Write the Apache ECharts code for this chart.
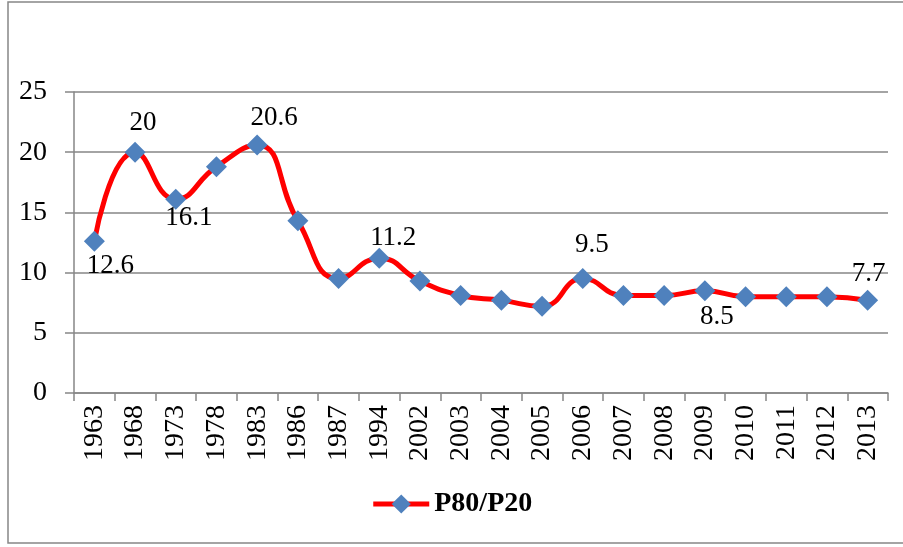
<!DOCTYPE html>
<html>
<head>
<meta charset="utf-8">
<script src="https://cdn.jsdelivr.net/npm/echarts@6/dist/echarts.min.js"></script>
<style>
  html, body { margin: 0; padding: 0; background: #fff; }
  #canvas { width: 903px; height: 547px; }
</style>
</head>
<body>
<div id="canvas"></div>
<script>
var years = ['1963', '1968', '1973', '1978', '1983', '1986', '1987', '1994', '2002', '2003',
             '2004', '2005', '2006', '2007', '2008', '2009', '2010', '2011', '2012', '2013'];
var ratio = [12.6, 20, 16.1, 18.8, 20.6, 14.3, 9.5, 11.2, 9.3, 8.1,
             7.7, 7.2, 9.5, 8.1, 8.1, 8.5, 8.0, 8.0, 8.0, 7.7];
var yTicks = [0, 5, 10, 15, 20, 25];

// which points carry a value label, where, and a small nudge
var shownLabels = {
    0: ['bottom', [16, 1]],
    1: ['top', [8, 1]],
    2: ['bottom', [13, -5]],
    4: ['top', [17, 3]],
    7: ['top', [14, 10]],
    12: ['top', [9, -4]],
    15: ['bottom', [12, 2]],
    19: ['top', [1, 4]]
};

var font = 'Liberation Serif';
var gridGray = '#868686';

var seriesData = ratio.map(function (v, i) {
    var cfg = shownLabels[i];
    if (!cfg) return v;
    return {
        value: v,
        label: { show: true, position: cfg[0], distance: cfg[0] === 'top' ? 6 : 0, offset: cfg[1] }
    };
});

var myChart = echarts.init(document.getElementById('canvas'));
var option = {
    animation: false,
    backgroundColor: '#fff',
    graphic: [{
        type: 'rect',
        shape: { x: 8, y: 2, width: 900, height: 541 },
        style: { fill: 'none', stroke: '#878787', lineWidth: 1.5 },
        silent: true
    }],
    grid: {
        left: 74,
        right: 15,
        top: 92,
        bottom: 154
    },
    legend: {
        bottom: 24,
        left: 'center',
        itemWidth: 56,
        itemHeight: 24,
        itemGap: 6,
        lineStyle: { width: 5 },
        textStyle: { fontFamily: font, fontSize: 28, fontWeight: 'bold', color: '#000' },
        data: ['P80/P20']
    },
    xAxis: {
        type: 'category',
        boundaryGap: true,
        data: years,
        axisLine: { lineStyle: { color: gridGray, width: 1.5 } },
        axisTick: { show: true, length: 8, lineStyle: { color: gridGray, width: 1.5 } },
        axisLabel: {
            rotate: 90,
            margin: 12,
            interval: 0,
            fontFamily: font,
            fontSize: 28,
            color: '#000'
        }
    },
    yAxis: {
        type: 'value',
        min: yTicks[0],
        max: yTicks[yTicks.length - 1],
        interval: yTicks[1] - yTicks[0],
        axisLine: { show: true, lineStyle: { color: gridGray, width: 1.5 } },
        axisTick: { show: true, length: 9, lineStyle: { color: gridGray, width: 1.5 } },
        splitLine: { show: true, lineStyle: { color: gridGray, width: 1.5 } },
        axisLabel: {
            margin: 27,
            fontFamily: font,
            fontSize: 28,
            color: '#000'
        }
    },
    series: [{
        name: 'P80/P20',
        type: 'line',
        data: seriesData,
        smooth: 0.5,
        symbol: 'diamond',
        symbolSize: 21,
        lineStyle: { color: '#FF0000', width: 5 },
        itemStyle: { color: '#4F81BD' },
        label: {
            show: false,
            fontFamily: font,
            fontSize: 27,
            color: '#000'
        }
    }]
};
myChart.setOption(option);
</script>
</body>
</html>
